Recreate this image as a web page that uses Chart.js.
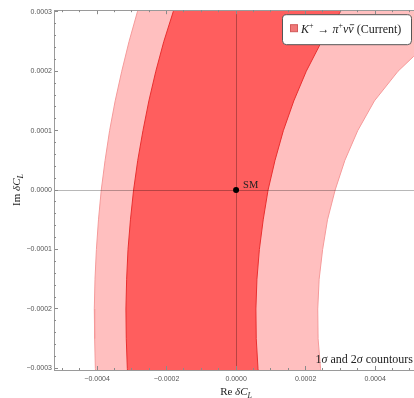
<!DOCTYPE html>
<html>
<head>
<meta charset="utf-8">
<script src="https://cdn.jsdelivr.net/npm/chart.js@4.4.1/dist/chart.umd.min.js"></script>
<style>
  html, body { margin: 0; padding: 0; background: #fff; }
  canvas { display: block; }
</style>
</head>
<body>
<canvas id="contours" width="414" height="398"></canvas>
<script>
// all coordinates below are in units of 1e-4
const unit = 1e-4;

// band edges sampled along Im δC_L, top to bottom
const edgeY    = [3.5, 3.0, 2.5, 2.0, 1.5, 1.0, 0.5, 0, -0.5, -1.0, -1.5, -2.0, -2.5, -3.0, -3.5];
const outer2sX = [-2.57, -2.84, -3.08, -3.29, -3.48, -3.64, -3.77, -3.88, -3.96, -4.02, -4.06, -4.08, -4.07, -4.05, -4.00];
const outer1sX = [-1.51, -1.81, -2.08, -2.31, -2.51, -2.68, -2.83, -2.95, -3.04, -3.11, -3.15, -3.17, -3.16, -3.13, -3.08];
const inner1sX = [3.70, 3.00, 2.46, 2.02, 1.66, 1.36, 1.12, 0.92, 0.78, 0.67, 0.60, 0.57, 0.58, 0.63, 0.71];
// inner 2σ edge turns over near the top right
const inner2sY = [3.5, 2.73, 2.65, 2.5, 2.25, 2.0, 1.5, 1.0, 0.5, 0, -0.5, -1.0, -1.5, -2.0, -2.5, -3.0, -3.5];
const inner2sX = [7.22, 7.22, 6.34, 5.74, 5.11, 4.66, 3.98, 3.50, 3.13, 2.85, 2.63, 2.49, 2.39, 2.35, 2.36, 2.43, 2.54];

const smX = [0];
const smY = [0];

const xMajor = [-4, -2, 0, 2, 4];
const xMinor = [-5, -4.5, -3.5, -3, -2.5, -1.5, -1, -0.5, 0.5, 1, 1.5, 2.5, 3, 3.5, 4.5, 5];
const yMajor = [-3, -2, -1, 0, 1, 2, 3];
const yMinor = [-2.8, -2.6, -2.4, -2.2, -1.8, -1.6, -1.4, -1.2, -0.8, -0.6, -0.4, -0.2,
                0.2, 0.4, 0.6, 0.8, 1.2, 1.4, 1.6, 1.8, 2.2, 2.4, 2.6, 2.8];

const X_MIN = -5.24e-4, X_MAX = 5.12e-4;
const Y_MIN = -3.027e-4, Y_MAX = 3.027e-4;

function points(xs, ys) {
  return xs.map((x, i) => ({x: x * unit, y: ys[i] * unit}));
}

// closed outline: outer edge downwards, then inner edge back up
function band(outY, outX, inY, inX) {
  return points(outX, outY).concat(points(inX, inY).reverse());
}

function fmtTick(v) {
  return v.toFixed(4).replace('-', '\u2212');
}

const tickFont = {family: 'Liberation Sans', size: 7};
const tickColor = '#8a8a8a';
const frameColor = '#9a9a9a';
const zeroLine = c => (c.tick && Math.abs(c.tick.value) < 1e-12) ? 'rgba(0,0,0,0.28)' : 'rgba(0,0,0,0)';

function tickSet(values) {
  return s => { s.ticks = values.map(v => ({value: v * unit})); };
}

// unlabelled frame ticks pointing into the plot
function frameTicks(position, lo, hi, values, len, frame) {
  const horizontal = position === 'top' || position === 'bottom';
  return {
    type: 'linear', position: position, min: lo, max: hi, weight: 0, z: 1,
    afterBuildTicks: tickSet(values),
    afterFit: s => { if (horizontal) s.height = 0; else s.width = 0; },
    ticks: {display: false},
    grid: {drawOnChartArea: false, tickLength: len, tickColor: tickColor, z: 1},
    border: {display: frame, color: frameColor, z: 1}
  };
}

function serif(size, italic) {
  return (italic ? 'italic ' : '') + size + 'px "Liberation Serif"';
}

// draws a row of differently styled pieces; a piece with bar gets an overline
function drawRuns(ctx, runs, x, y, align) {
  let w = 0;
  for (const r of runs) { ctx.font = r.font; w += ctx.measureText(r.text).width + (r.gap || 0); }
  let cx = align === 'center' ? x - w / 2 : (align === 'right' ? x - w : x);
  ctx.textAlign = 'left';
  ctx.textBaseline = 'alphabetic';
  for (const r of runs) {
    ctx.font = r.font;
    const rw = ctx.measureText(r.text).width;
    ctx.fillText(r.text, cx, y + (r.dy || 0));
    if (r.bar) {
      ctx.save();
      ctx.strokeStyle = ctx.fillStyle;
      ctx.lineWidth = 0.8;
      ctx.beginPath();
      ctx.moveTo(cx + 1.5, y - 8.5);
      ctx.lineTo(cx + rw + 0.5, y - 8.5);
      ctx.stroke();
      ctx.restore();
    }
    cx += rw + (r.gap || 0);
  }
}

const plotText = {
  id: 'plotText',
  afterDraw(chart) {
    const {ctx, chartArea} = chart;
    const xs = chart.scales.x, ys = chart.scales.y;
    ctx.save();
    ctx.fillStyle = '#222';

    // axis titles
    drawRuns(ctx, [
      {text: 'Re ', font: serif(11)},
      {text: 'δC', font: serif(11, true)},
      {text: 'L', font: serif(8, true), dy: 2.5}
    ], xs.getPixelForValue(0), 395, 'center');

    ctx.save();
    ctx.translate(20, 190);
    ctx.rotate(-Math.PI / 2);
    drawRuns(ctx, [
      {text: 'Im ', font: serif(11)},
      {text: 'δC', font: serif(11, true)},
      {text: 'L', font: serif(8, true), dy: 2.5}
    ], 0, 0, 'center');
    ctx.restore();

    // SM label next to the point
    const px = xs.getPixelForValue(smX[0] * unit), py = ys.getPixelForValue(smY[0] * unit);
    drawRuns(ctx, [{text: 'SM', font: serif(10.5)}], px + 7, py - 2.5, 'left');

    // caption in the lower right corner
    drawRuns(ctx, [
      {text: '1', font: serif(12)},
      {text: 'σ', font: serif(12, true)},
      {text: ' and 2', font: serif(12)},
      {text: 'σ', font: serif(12, true)},
      {text: ' countours', font: serif(12)}
    ], chartArea.right - 1, 363, 'right');

    // legend box
    const bx = chartArea.right - 131.5, by = chartArea.top + 4.5, bw = 129, bh = 30;
    ctx.beginPath();
    ctx.roundRect(bx, by, bw, bh, 4);
    ctx.fillStyle = '#fff';
    ctx.fill();
    ctx.lineWidth = 1;
    ctx.strokeStyle = '#555';
    ctx.stroke();

    ctx.fillStyle = '#f07878';
    ctx.fillRect(bx + 8, by + 10, 7, 7);
    ctx.strokeStyle = '#d25a5a';
    ctx.strokeRect(bx + 8, by + 10, 7, 7);

    ctx.fillStyle = '#222';
    drawRuns(ctx, [
      {text: 'K', font: serif(12, true)},
      {text: '+', font: serif(8), dy: -5, gap: 1},
      {text: ' \u2192 ', font: serif(12)},
      {text: 'π', font: serif(12, true)},
      {text: '+', font: serif(8), dy: -5},
      {text: 'ν', font: serif(12, true)},
      {text: 'ν', font: serif(12, true), bar: true},
      {text: ' (Current)', font: serif(12)}
    ], bx + 18.5, by + 18.5, 'left');

    ctx.restore();
  }
};

new Chart(document.getElementById('contours'), {
  type: 'scatter',
  data: {
    datasets: [
      {
        label: 'SM',
        data: points(smX, smY),
        pointRadius: 3,
        pointBackgroundColor: '#000',
        pointBorderWidth: 0
      },
      {
        label: '1σ',
        data: band(edgeY, outer1sX, edgeY, inner1sX),
        showLine: true,
        fill: 'shape',
        backgroundColor: '#ff5e5e',
        borderColor: '#e83030',
        borderWidth: 1,
        pointRadius: 0
      },
      {
        label: '2σ',
        data: band(edgeY, outer2sX, inner2sY, inner2sX),
        showLine: true,
        fill: 'shape',
        backgroundColor: '#ffbfbf',
        borderColor: '#f59a9a',
        borderWidth: 1,
        pointRadius: 0
      }
    ]
  },
  options: {
    responsive: false,
    animation: false,
    events: [],
    layout: {padding: {top: 8, left: 0, right: 0, bottom: 0}, autoPadding: false},
    plugins: {legend: {display: false}, tooltip: {enabled: false}},
    scales: {
      x: {
        type: 'linear', position: 'bottom', min: X_MIN, max: X_MAX, weight: 1, z: 1,
        afterBuildTicks: tickSet(xMajor),
        afterFit: s => { s.height = 28; },
        ticks: {autoSkip: false, maxRotation: 0, padding: 9, color: '#555', font: tickFont, callback: v => fmtTick(v)},
        grid: {color: zeroLine, tickColor: tickColor, tickLength: -4, z: 1},
        border: {color: frameColor, z: 1}
      },
      y: {
        type: 'linear', position: 'left', min: Y_MIN, max: Y_MAX, weight: 1, z: 1,
        afterBuildTicks: tickSet(yMajor),
        afterFit: s => { s.width = 54; },
        ticks: {autoSkip: false, padding: 6, color: '#555', font: tickFont, callback: v => fmtTick(v)},
        grid: {color: zeroLine, tickColor: tickColor, tickLength: -4, z: 1},
        border: {color: frameColor, z: 1}
      },
      xm: frameTicks('bottom', X_MIN, X_MAX, xMinor, -2, false),
      ym: frameTicks('left', Y_MIN, Y_MAX, yMinor, -2, false),
      xt: frameTicks('top', X_MIN, X_MAX, xMajor, -4, true),
      xtm: frameTicks('top', X_MIN, X_MAX, xMinor, -2, false)
    }
  },
  plugins: [plotText]
});
</script>
</body>
</html>
